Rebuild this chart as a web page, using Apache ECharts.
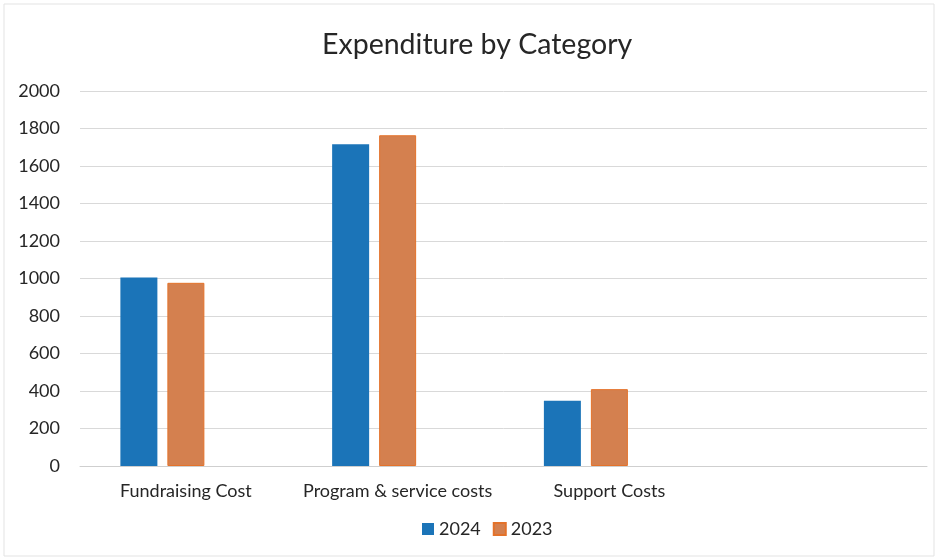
<!DOCTYPE html>
<html><head><meta charset="utf-8">
<script src="https://cdn.jsdelivr.net/npm/echarts@6/dist/echarts.min.js"></script>
<style>html,body{margin:0;padding:0;background:#fff}#c{width:938px;height:560px}</style>
</head><body><div id="c"></div>
<script>
const categories = ['Fundraising Cost', 'Program & service costs', 'Support Costs', ''];
const values2024 = [1005, 1716, 348, null];
const values2023 = [977, 1764, 410, null];
const valuesHidden = [null, null, null, null];
const yTicks = {min: 0, max: 2000, interval: 200};

const chart = echarts.init(document.getElementById('c'));
chart.setOption({
  backgroundColor: '#fff',
  animation: false,
  title: {
    text: 'Expenditure by Category', left: 317, top: 25,
    textStyle: {fontFamily: 'Lato', fontSize: 28.5, fontWeight: 'normal', color: '#262626'}
  },
  legend: {
    data: ['2024', '2023'], bottom: 17, left: 417,
    itemWidth: 12, itemHeight: 12, itemGap: 12, icon: 'rect',
    textStyle: {fontFamily: 'Lato', fontSize: 18, color: '#262626'}
  },
  grid: {left: 80, right: 11, top: 91, bottom: 94},
  xAxis: {
    type: 'category', data: categories,
    axisLine: {show: true, lineStyle: {color: '#cfcfcf'}},
    axisTick: {show: false},
    axisLabel: {fontFamily: 'Lato', fontSize: 18, color: '#262626', margin: 16, interval: 0}
  },
  yAxis: {
    type: 'value', min: yTicks.min, max: yTicks.max, interval: yTicks.interval,
    axisLine: {show: false}, axisTick: {show: false},
    splitLine: {lineStyle: {color: '#d9d9d9'}},
    axisLabel: {fontFamily: 'Lato', fontSize: 18, color: '#262626', margin: 20,
      formatter: v => String(v)}
  },
  series: [
    {name: '2024', type: 'bar', data: values2024, barWidth: 37, barGap: '27%',
     itemStyle: {color: '#1b74b8'}},
    {name: '2023', type: 'bar', data: values2023, barWidth: 37, barGap: '27%',
     itemStyle: {color: '#d4804f', borderColor: '#e4722a', borderWidth: 1}},
    {name: 'hidden', type: 'bar', data: valuesHidden, barWidth: 37, barGap: '27%'}
  ],
  graphic: [{type: 'rect', shape: {x: 4, y: 4, width: 930, height: 552},
    style: {fill: 'none', stroke: '#e3e3e3', lineWidth: 1}, silent: true}]
});
</script></body></html>
